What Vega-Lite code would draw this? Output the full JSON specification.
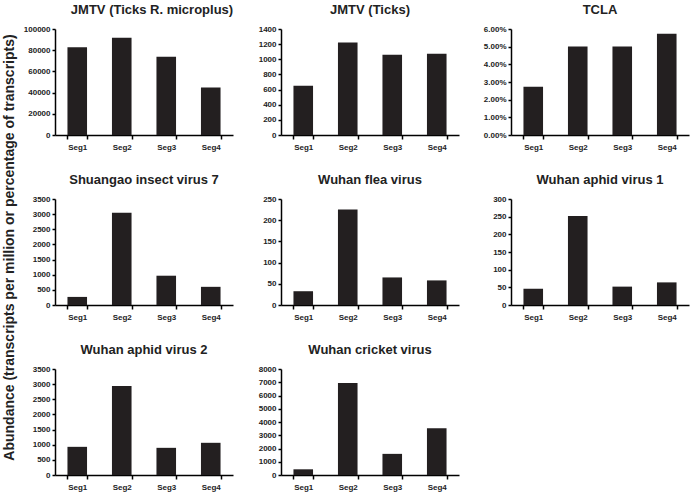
{
  "$schema": "https://vega.github.io/schema/vega-lite/v6.json",
  "background": "white",
  "padding": {"left": 3, "top": 4, "right": 4, "bottom": 4},
  "title": {"text": "Abundance (transcripts per million or percentage of transcripts)", "orient": "left", "anchor": "middle", "fontSize": 14, "fontWeight": "bold", "font": "Liberation Sans", "color": "#222", "offset": 6},
  "datasets": {
    "abund": [
      {"virus": "JMTV (Ticks R. microplus)", "seg": "Seg1", "value": 82700},
      {"virus": "JMTV (Ticks R. microplus)", "seg": "Seg2", "value": 91800},
      {"virus": "JMTV (Ticks R. microplus)", "seg": "Seg3", "value": 73800},
      {"virus": "JMTV (Ticks R. microplus)", "seg": "Seg4", "value": 44800},
      {"virus": "JMTV (Ticks)", "seg": "Seg1", "value": 651},
      {"virus": "JMTV (Ticks)", "seg": "Seg2", "value": 1223},
      {"virus": "JMTV (Ticks)", "seg": "Seg3", "value": 1060},
      {"virus": "JMTV (Ticks)", "seg": "Seg4", "value": 1073},
      {"virus": "TCLA", "seg": "Seg1", "value": 0.0273},
      {"virus": "TCLA", "seg": "Seg2", "value": 0.0501},
      {"virus": "TCLA", "seg": "Seg3", "value": 0.0501},
      {"virus": "TCLA", "seg": "Seg4", "value": 0.0573},
      {"virus": "Shuangao insect virus 7", "seg": "Seg1", "value": 267},
      {"virus": "Shuangao insect virus 7", "seg": "Seg2", "value": 3044},
      {"virus": "Shuangao insect virus 7", "seg": "Seg3", "value": 967},
      {"virus": "Shuangao insect virus 7", "seg": "Seg4", "value": 600},
      {"virus": "Wuhan flea virus", "seg": "Seg1", "value": 32.5},
      {"virus": "Wuhan flea virus", "seg": "Seg2", "value": 225},
      {"virus": "Wuhan flea virus", "seg": "Seg3", "value": 65},
      {"virus": "Wuhan flea virus", "seg": "Seg4", "value": 58},
      {"virus": "Wuhan aphid virus 1", "seg": "Seg1", "value": 46},
      {"virus": "Wuhan aphid virus 1", "seg": "Seg2", "value": 252},
      {"virus": "Wuhan aphid virus 1", "seg": "Seg3", "value": 52},
      {"virus": "Wuhan aphid virus 1", "seg": "Seg4", "value": 64},
      {"virus": "Wuhan aphid virus 2", "seg": "Seg1", "value": 930},
      {"virus": "Wuhan aphid virus 2", "seg": "Seg2", "value": 2935},
      {"virus": "Wuhan aphid virus 2", "seg": "Seg3", "value": 897},
      {"virus": "Wuhan aphid virus 2", "seg": "Seg4", "value": 1063},
      {"virus": "Wuhan cricket virus", "seg": "Seg1", "value": 430},
      {"virus": "Wuhan cricket virus", "seg": "Seg2", "value": 6937},
      {"virus": "Wuhan cricket virus", "seg": "Seg3", "value": 1595},
      {"virus": "Wuhan cricket virus", "seg": "Seg4", "value": 3519}
    ]
  },
  "columns": 3,
  "spacing": {"column": 24, "row": 23},
  "concat": [
    {
      "title": {"text": "JMTV (Ticks R. microplus)", "dx": 8},
      "width": 178, "height": 106,
      "data": {"name": "abund"},
      "transform": [{"filter": "datum.virus === 'JMTV (Ticks R. microplus)'"}],
      "mark": "bar",
      "encoding": {
        "x": {"field": "seg", "type": "nominal", "title": null},
        "y": {"field": "value", "type": "quantitative", "title": null, "scale": {"domain": [0, 100000]}, "axis": {"values": [0, 20000, 40000, 60000, 80000, 100000], "format": "d"}}
      }
    },
    {
      "title": "JMTV (Ticks)",
      "width": 178, "height": 106,
      "data": {"name": "abund"},
      "transform": [{"filter": "datum.virus === 'JMTV (Ticks)'"}],
      "mark": "bar",
      "encoding": {
        "x": {"field": "seg", "type": "nominal", "title": null},
        "y": {"field": "value", "type": "quantitative", "title": null, "scale": {"domain": [0, 1400]}, "axis": {"values": [0, 200, 400, 600, 800, 1000, 1200, 1400], "format": "d"}}
      }
    },
    {
      "title": "TCLA",
      "width": 178, "height": 106,
      "data": {"name": "abund"},
      "transform": [{"filter": "datum.virus === 'TCLA'"}],
      "mark": "bar",
      "encoding": {
        "x": {"field": "seg", "type": "nominal", "title": null},
        "y": {"field": "value", "type": "quantitative", "title": null, "scale": {"domain": [0, 0.06]}, "axis": {"values": [0, 0.01, 0.02, 0.03, 0.04, 0.05, 0.06], "format": ".2%"}}
      }
    },
    {
      "title": "Shuangao insect virus 7",
      "width": 178, "height": 106,
      "data": {"name": "abund"},
      "transform": [{"filter": "datum.virus === 'Shuangao insect virus 7'"}],
      "mark": "bar",
      "encoding": {
        "x": {"field": "seg", "type": "nominal", "title": null},
        "y": {"field": "value", "type": "quantitative", "title": null, "scale": {"domain": [0, 3500]}, "axis": {"values": [0, 500, 1000, 1500, 2000, 2500, 3000, 3500], "format": "d"}}
      }
    },
    {
      "title": "Wuhan flea virus",
      "width": 178, "height": 106,
      "data": {"name": "abund"},
      "transform": [{"filter": "datum.virus === 'Wuhan flea virus'"}],
      "mark": "bar",
      "encoding": {
        "x": {"field": "seg", "type": "nominal", "title": null},
        "y": {"field": "value", "type": "quantitative", "title": null, "scale": {"domain": [0, 250]}, "axis": {"values": [0, 50, 100, 150, 200, 250], "format": "d"}}
      }
    },
    {
      "title": "Wuhan aphid virus 1",
      "width": 178, "height": 106,
      "data": {"name": "abund"},
      "transform": [{"filter": "datum.virus === 'Wuhan aphid virus 1'"}],
      "mark": "bar",
      "encoding": {
        "x": {"field": "seg", "type": "nominal", "title": null},
        "y": {"field": "value", "type": "quantitative", "title": null, "scale": {"domain": [0, 300]}, "axis": {"values": [0, 50, 100, 150, 200, 250, 300], "format": "d"}}
      }
    },
    {
      "title": "Wuhan aphid virus 2",
      "width": 178, "height": 106,
      "data": {"name": "abund"},
      "transform": [{"filter": "datum.virus === 'Wuhan aphid virus 2'"}],
      "mark": "bar",
      "encoding": {
        "x": {"field": "seg", "type": "nominal", "title": null},
        "y": {"field": "value", "type": "quantitative", "title": null, "scale": {"domain": [0, 3500]}, "axis": {"values": [0, 500, 1000, 1500, 2000, 2500, 3000, 3500], "format": "d"}}
      }
    },
    {
      "title": "Wuhan cricket virus",
      "width": 178, "height": 106,
      "data": {"name": "abund"},
      "transform": [{"filter": "datum.virus === 'Wuhan cricket virus'"}],
      "mark": "bar",
      "encoding": {
        "x": {"field": "seg", "type": "nominal", "title": null},
        "y": {"field": "value", "type": "quantitative", "title": null, "scale": {"domain": [0, 8000]}, "axis": {"values": [0, 1000, 2000, 3000, 4000, 5000, 6000, 7000, 8000], "format": "d"}}
      }
    }
  ],
  "config": {
    "font": "Liberation Sans",
    "view": {"stroke": null},
    "bar": {"color": "#231f20"},
    "scale": {"bandPaddingInner": 0.56},
    "axis": {"domainColor": "#000", "domainWidth": 1.5, "tickColor": "#000", "tickWidth": 1.5, "labelFont": "Liberation Sans", "labelFontWeight": "bold", "labelFontSize": 8, "labelColor": "#222", "grid": false},
    "axisX": {"tickBand": "extent", "tickSize": 4, "labelAngle": 0, "labelPadding": 4},
    "axisY": {"tickSize": 3, "labelPadding": 2},
    "title": {"font": "Liberation Sans", "fontSize": 13, "fontWeight": "bold", "color": "#222", "offset": 8}
  }
}
